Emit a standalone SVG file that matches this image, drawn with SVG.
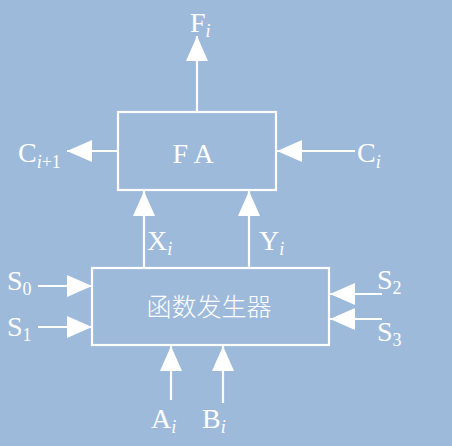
<svg xmlns="http://www.w3.org/2000/svg" width="452" height="446" viewBox="0 0 452 446">
<defs>
<style>
.bg{fill:#9dbadb}
.box{fill:none;stroke:#fff;stroke-width:2.2}
.ln{stroke:#fff;stroke-width:2.2;fill:none;marker-end:url(#ah)}
.t{fill:#fff;font-family:'Liberation Serif','Times New Roman',serif;font-size:28px}
.sub{font-size:18px}
.it{font-style:italic}
.cn{fill:#fff;font-family:'Noto Sans CJK SC',sans-serif;font-size:25px;font-weight:300}
</style>
<marker id="ah" markerUnits="userSpaceOnUse" markerWidth="26" markerHeight="24" refX="25" refY="12" orient="auto">
<path d="M0,1 L25,12 L0,23 Z" fill="#fff"/>
</marker>
</defs>
<rect class="bg" x="0" y="0" width="452" height="446"/>
<g id="connectors">
<line class="ln" x1="197" y1="112" x2="197" y2="36"/>
<line class="ln" x1="118" y1="151" x2="67" y2="151"/>
<line class="ln" x1="355" y1="151" x2="277" y2="151"/>
<line class="ln" x1="144" y1="268" x2="144" y2="191"/>
<line class="ln" x1="249" y1="268" x2="249" y2="191"/>
<line class="ln" x1="38" y1="286" x2="92" y2="286"/>
<line class="ln" x1="38" y1="327" x2="92" y2="327"/>
<line class="ln" x1="382" y1="294" x2="330" y2="294"/>
<line class="ln" x1="382" y1="319" x2="330" y2="319"/>
<line class="ln" x1="171" y1="400" x2="171" y2="346"/>
<line class="ln" x1="223" y1="403" x2="223" y2="346"/>
</g>
<g id="fa">
<rect class="box" x="118" y="112" width="158" height="78"/>
<text class="t" font-family="Liberation Serif, serif" x="193" y="163" text-anchor="middle">F A</text>
</g>
<g id="fg">
<rect class="box" x="92" y="268" width="237" height="77"/>
<text class="cn" x="209" y="316" text-anchor="middle">函数发生器</text>
</g>
<g id="labels" class="t" font-family="Liberation Serif, serif">
<text class="t" x="190" y="32">F<tspan class="sub it" dy="5">i</tspan></text>
<text class="t" x="18" y="162">C<tspan class="sub" dy="6"><tspan class="it">i</tspan>+1</tspan></text>
<text class="t" x="357" y="162">C<tspan class="sub it" dy="6">i</tspan></text>
<text class="t" x="147" y="250">X<tspan class="sub it" dy="5">i</tspan></text>
<text class="t" x="259" y="250">Y<tspan class="sub it" dy="5">i</tspan></text>
<text class="t" x="7" y="290">S<tspan class="sub" dy="5">0</tspan></text>
<text class="t" x="7" y="336">S<tspan class="sub" dy="5">1</tspan></text>
<text class="t" x="377" y="289">S<tspan class="sub" dy="5">2</tspan></text>
<text class="t" x="377" y="341">S<tspan class="sub" dy="5">3</tspan></text>
<text class="t" x="151" y="428">A<tspan class="sub it" dy="5">i</tspan></text>
<text class="t" x="202" y="428">B<tspan class="sub it" dy="5">i</tspan></text>
</g>
</svg>
